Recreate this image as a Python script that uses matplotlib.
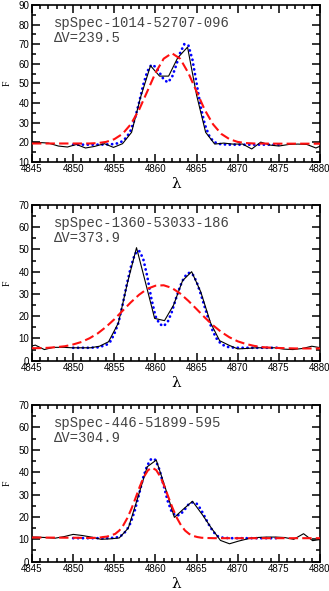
import matplotlib
matplotlib.use("Agg")
import matplotlib.pyplot as plt
from matplotlib.ticker import MultipleLocator

# ---- panel 1: spSpec-1014-52707-096 ----
name1 = "spSpec-1014-52707-096"
dv1 = "239.5"
obs_x1 = [4844.8, 4845.9, 4847.0, 4848.2, 4849.3, 4850.4, 4851.5, 4852.6, 4853.8, 4854.9,
          4856.0, 4857.1, 4858.2, 4859.4, 4860.5, 4861.6, 4862.7, 4863.9, 4865.0, 4866.1,
          4867.2, 4868.3, 4869.4, 4870.6, 4871.7, 4872.8, 4873.9, 4875.0, 4876.2, 4877.3,
          4878.4, 4879.5, 4880.6]
obs_y1 = [20.0, 19.8, 19.5, 18.0, 17.5, 18.8, 17.0, 17.8, 19.2, 17.3,
          19.2, 25.0, 43.0, 59.0, 53.7, 53.7, 63.0, 68.5, 44.0, 25.0,
          19.0, 19.5, 19.0, 19.0, 16.5, 20.0, 18.5, 18.0, 18.8, 19.0,
          18.8, 17.0, 19.0]
two_x1 = [4850, 4851, 4852, 4853, 4854, 4855, 4855.5, 4856, 4856.5, 4857, 4857.5, 4858,
          4858.5, 4859, 4859.5, 4860, 4860.5, 4861, 4861.5, 4862, 4862.5, 4863, 4863.5,
          4864, 4864.5, 4865, 4865.5, 4866, 4866.5, 4867, 4867.5, 4868, 4869, 4870,
          4871, 4872, 4873, 4874, 4875]
two_y1 = [18.7, 18.7, 18.7, 18.7, 18.8, 19.0, 19.5, 20.5, 22.5, 26.0, 32.0, 40.0,
          49.0, 56.0, 59.5, 58.5, 55.5, 52.0, 50.5, 53.0, 59.0, 65.5, 70.0,
          69.5, 62.0, 50.0, 38.0, 29.0, 23.5, 20.5, 19.3, 18.9, 18.7, 18.7,
          18.7, 18.7, 18.7, 18.7, 18.7]
one_x1 = [4845, 4850, 4852, 4853, 4854, 4855, 4856, 4857, 4858, 4859, 4860, 4861, 4862,
          4863, 4864, 4865, 4866, 4867, 4868, 4869, 4870, 4871, 4872, 4875, 4880]
one_y1 = [19.3, 19.3, 19.3, 19.5, 20.1, 21.5, 24.2, 29.1, 36.4, 45.8, 55.3, 62.6, 65.4,
          62.6, 55.3, 45.8, 36.4, 29.1, 24.2, 21.5, 20.1, 19.5, 19.3, 19.2, 19.2]

# ---- panel 2: spSpec-1360-53033-186 ----
name2 = "spSpec-1360-53033-186"
dv2 = "373.9"
obs_x2 = [4844.3, 4845.4, 4846.5, 4847.6, 4848.8, 4849.9, 4851.0, 4852.1, 4853.2, 4854.3,
          4855.5, 4856.6, 4857.7, 4858.8, 4859.9, 4861.1, 4862.2, 4863.3, 4864.4, 4865.5,
          4866.7, 4867.8, 4868.9, 4870.0, 4871.1, 4872.3, 4873.4, 4874.5, 4875.6, 4876.7,
          4877.9, 4879.0, 4880.1]
obs_y2 = [6.0, 7.0, 5.0, 6.0, 6.0, 5.8, 5.8, 5.8, 6.5, 8.5,
          17.0, 35.0, 50.8, 35.0, 19.0, 18.0, 25.0, 36.0, 40.0, 31.0,
          17.0, 9.0, 7.0, 5.3, 5.5, 5.8, 5.8, 5.8, 5.2, 5.0,
          5.5, 6.5, 5.8]
two_x2 = [4850, 4851, 4852, 4853, 4854, 4854.5, 4855, 4855.5, 4856, 4856.5, 4857, 4857.5,
          4858, 4858.5, 4859, 4859.5, 4860, 4860.5, 4861, 4861.5, 4862, 4862.5, 4863,
          4863.5, 4864, 4864.5, 4865, 4865.5, 4866, 4866.5, 4867, 4867.5, 4868, 4868.5,
          4869, 4870, 4871, 4872, 4873, 4874, 4875]
two_y2 = [5.8, 5.8, 5.8, 6.0, 7.0, 8.5, 12.0, 17.0, 25.0, 34.0, 42.0, 48.0,
          49.5, 46.0, 38.0, 28.0, 20.0, 16.5, 15.5, 17.5, 22.0, 28.0, 33.5,
          37.5, 39.5, 39.0, 35.5, 30.0, 24.0, 18.0, 13.0, 9.5, 7.5, 6.5,
          6.0, 5.8, 5.8, 5.8, 5.8, 5.8, 5.8]
one_x2 = [4845, 4846, 4847, 4848, 4849, 4850, 4851, 4852, 4853, 4854, 4855, 4856, 4857,
          4858, 4859, 4860, 4861, 4862, 4863, 4864, 4865, 4866, 4867, 4868, 4869, 4870,
          4871, 4872, 4873, 4874, 4875, 4876, 4877, 4880]
one_y2 = [5.6, 5.65, 5.8, 6.1, 6.5, 7.3, 8.4, 10.1, 12.3, 15.2, 18.6, 22.4, 26.2,
          29.6, 32.3, 33.7, 33.9, 32.7, 30.2, 26.9, 23.2, 19.4, 15.9, 12.9, 10.5, 8.7,
          7.5, 6.65, 6.1, 5.85, 5.7, 5.6, 5.5, 5.5]

# ---- panel 3: spSpec-446-51899-595 ----
name3 = "spSpec-446-51899-595"
dv3 = "304.9"
obs_x3 = [4844.4, 4845.5, 4846.6, 4847.8, 4848.9, 4850.0, 4851.1, 4852.2, 4853.4, 4854.5,
          4855.6, 4856.7, 4857.8, 4859.0, 4860.1, 4861.2, 4862.3, 4863.4, 4864.5, 4865.7,
          4866.8, 4867.9, 4869.0, 4870.1, 4871.3, 4872.4, 4873.5, 4874.6, 4875.7, 4876.8,
          4878.0, 4879.1, 4880.2]
obs_y3 = [11.0, 11.0, 10.8, 10.5, 11.2, 12.2, 11.7, 11.0, 10.0, 10.2,
          10.6, 15.0, 28.0, 42.4, 45.4, 33.0, 19.8, 23.5, 27.0, 21.0,
          15.0, 9.5, 8.0, 9.2, 10.3, 10.8, 11.0, 11.0, 10.8, 10.0,
          12.5, 9.4, 10.0]
two_x3 = [4850, 4851, 4852, 4853, 4854, 4855, 4855.5, 4856, 4856.5, 4857, 4857.5, 4858,
          4858.5, 4859, 4859.5, 4860, 4860.5, 4861, 4861.5, 4862, 4862.5, 4863, 4863.5,
          4864, 4864.5, 4865, 4865.5, 4866, 4866.5, 4867, 4867.5, 4868, 4869, 4870,
          4871, 4872, 4873, 4874, 4875]
two_y3 = [10.5, 10.5, 10.5, 10.5, 10.5, 10.7, 11.0, 12.0, 14.0, 17.5, 23.0, 30.0,
          37.5, 43.0, 46.0, 45.5, 41.0, 34.0, 27.0, 22.0, 20.5, 21.0, 23.0,
          25.5, 26.5, 26.0, 23.5, 20.0, 16.5, 13.5, 11.5, 10.8, 10.5, 10.5,
          10.5, 10.5, 10.5, 10.5, 10.5]
one_x3 = [4845, 4850, 4852, 4853.1, 4853.6, 4854.1, 4854.6, 4855.1, 4855.6, 4856.1,
          4856.6, 4857.1, 4857.6, 4858.1, 4858.6, 4859.1, 4859.6, 4860.1, 4860.6, 4861.1,
          4861.6, 4862.1, 4862.6, 4863.1, 4863.6, 4864.1, 4864.6, 4865.1, 4865.6, 4866.1,
          4867.1, 4870, 4880]
one_y3 = [10.8, 10.7, 10.6, 10.7, 11.0, 11.2, 11.8, 12.4, 13.9, 16.3,
          19.6, 23.8, 28.6, 33.6, 37.9, 40.9, 42.0, 40.9, 37.9, 33.6,
          28.6, 23.8, 19.6, 16.3, 13.9, 12.4, 11.5, 11.0, 10.7, 10.6,
          10.5, 10.5, 10.5]

panels = [
    (name1, dv1, obs_x1, obs_y1, two_x1, two_y1, one_x1, one_y1, (10, 90)),
    (name2, dv2, obs_x2, obs_y2, two_x2, two_y2, one_x2, one_y2, (0, 70)),
    (name3, dv3, obs_x3, obs_y3, two_x3, two_y3, one_x3, one_y3, (0, 70)),
]

fig = plt.figure(figsize=(3.29, 5.91), dpi=100)
boxes = [[0.0973, 0.7264, 0.8754, 0.2651],
         [0.0973, 0.3897, 0.8754, 0.2635],
         [0.0973, 0.0496, 0.8754, 0.2651]]

for box, (name, dv, ox, oy, tx, ty, gx, gy, ylim) in zip(boxes, panels):
    ax = fig.add_axes(box)
    ax.plot(ox, oy, color='black', lw=0.8, zorder=3)
    ax.plot(tx, ty, color='#0000ff', lw=2.0, linestyle=(0, (0.05, 1.7)),
            dash_capstyle='round', zorder=2)
    ax.plot(gx, gy, color='#ff1010', lw=1.5, linestyle=(0, (4.5, 2)), zorder=4)

    ax.set_xlim(4845, 4880)
    ax.set_ylim(*ylim)
    ax.xaxis.set_major_locator(MultipleLocator(5))
    ax.xaxis.set_minor_locator(MultipleLocator(1))
    ax.yaxis.set_major_locator(MultipleLocator(10))
    ax.yaxis.set_minor_locator(MultipleLocator(5))
    ax.tick_params(which='both', direction='in', top=True, right=True,
                   width=1.1, labelsize=7, pad=2)
    ax.tick_params(which='major', length=5.5)
    ax.tick_params(which='minor', length=3)
    for s in ax.spines.values():
        s.set_linewidth(1.2)
    for lab in ax.get_xticklabels() + ax.get_yticklabels():
        lab.set_fontfamily('Liberation Sans')

    ax.set_xlabel('λ', fontsize=11, family='DejaVu Serif', labelpad=2)
    ax.set_ylabel('F', fontsize=7, family='Liberation Serif')
    ax.yaxis.set_label_coords(-0.072, 0.5)

    ax.text(0.075, 0.885, name, transform=ax.transAxes, fontsize=10,
            family='Liberation Mono', color='#444444', va='center')
    ax.text(0.075, 0.79, 'ΔV=' + dv, transform=ax.transAxes, fontsize=10,
            family='Liberation Mono', color='#444444', va='center')

fig.savefig('out.png', dpi=100)
